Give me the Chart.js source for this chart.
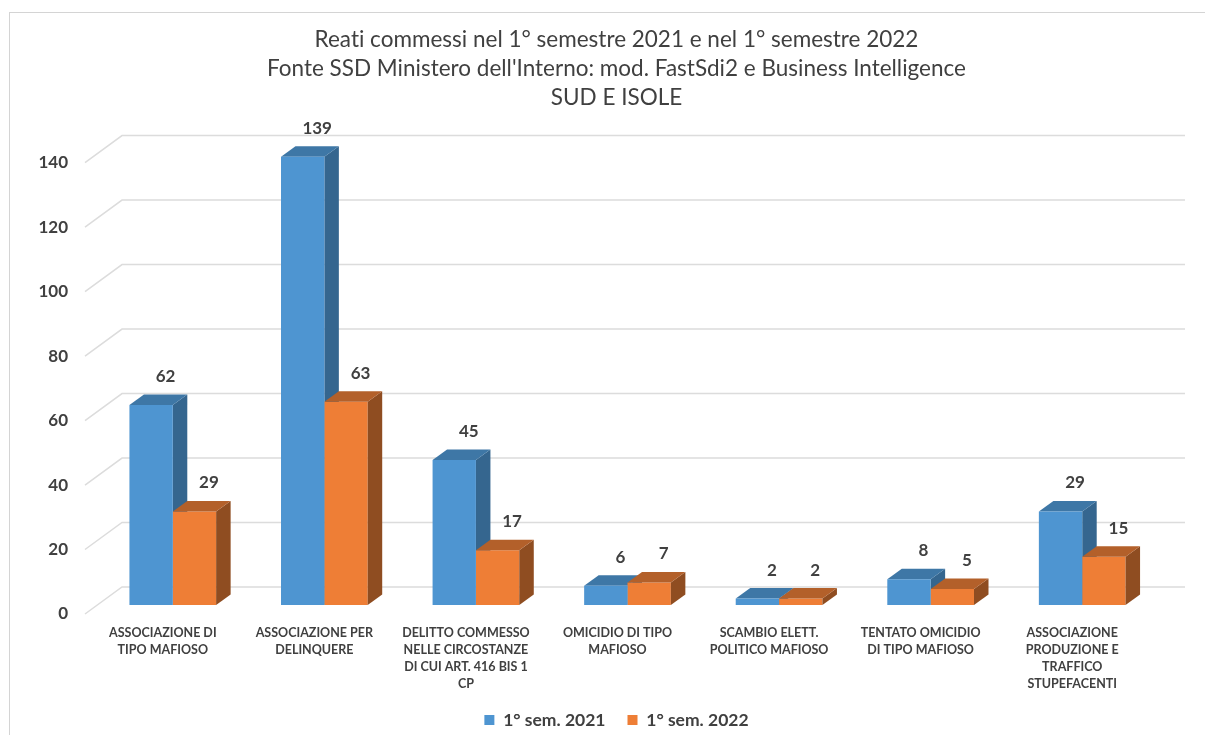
<!DOCTYPE html>
<html>
<head>
<meta charset="utf-8">
<script src="https://cdn.jsdelivr.net/npm/chart.js@4.4.1/dist/chart.umd.min.js"></script>
<style>
  html, body { margin: 0; padding: 0; background: #ffffff; overflow: hidden; }
  #frame { position: absolute; left: 9px; top: 12px; width: 1400px; height: 900px;
           border-left: 1px solid #d4d4d4; border-top: 1px solid #d4d4d4; }
  #wrap { position: absolute; left: 0; top: 0; width: 1205px; height: 735px; }
</style>
</head>
<body>
<div id="frame"></div>
<div id="wrap"><canvas id="c" width="1205" height="735"></canvas></div>
<script>
// ---- data ----
const categories = [
  ['ASSOCIAZIONE DI', 'TIPO MAFIOSO'],
  ['ASSOCIAZIONE PER', 'DELINQUERE'],
  ['DELITTO COMMESSO', 'NELLE CIRCOSTANZE', 'DI CUI ART. 416 BIS 1', 'CP'],
  ['OMICIDIO DI TIPO', 'MAFIOSO'],
  ['SCAMBIO ELETT.', 'POLITICO MAFIOSO'],
  ['TENTATO OMICIDIO', 'DI TIPO MAFIOSO'],
  ['ASSOCIAZIONE', 'PRODUZIONE E', 'TRAFFICO', 'STUPEFACENTI']
];
const seriesNames = ['1° sem. 2021', '1° sem. 2022'];
const sem2021 = [62, 139, 45, 6, 2, 8, 29];
const sem2022 = [29, 63, 17, 7, 2, 5, 15];
const yTickValues = [0, 20, 40, 60, 80, 100, 120, 140];
// \u200C (zero-width non-joiner) only prevents the "ti" ligature of the font
const titleLines = [
  'Reat\u200Ci commessi nel 1° semestre 2021 e nel 1° semestre 2022',
  "Fonte SSD Ministero dell'Interno: mod. FastSdi2 e Business Intelligence",
  'SUD E ISOLE'
];

// ---- styles ----
const FONT = 'Lato, "Open Sans", sans-serif';
const TEXT = '#404040';
const colors = {
  front: ['#4E95D1', '#EE7E36'],
  side:  ['#35668F', '#8F4D21'],
  top:   ['#3E77A6', '#B3602A']
};
const DEPTH_X = 14.5, DEPTH_Y = 10.5;

function drawBox(ctx, el, i) {
  const p = el.getProps(['x', 'y', 'base', 'width'], true);
  const l = p.x - p.width / 2, r = p.x + p.width / 2, t = p.y, b = p.base;
  ctx.fillStyle = colors.side[i];
  ctx.beginPath();
  ctx.moveTo(r, b); ctx.lineTo(r, t); ctx.lineTo(r + DEPTH_X, t - DEPTH_Y); ctx.lineTo(r + DEPTH_X, b - DEPTH_Y);
  ctx.closePath(); ctx.fill();
  ctx.fillStyle = colors.top[i];
  ctx.beginPath();
  ctx.moveTo(l, t); ctx.lineTo(r, t); ctx.lineTo(r + DEPTH_X, t - DEPTH_Y); ctx.lineTo(l + DEPTH_X, t - DEPTH_Y);
  ctx.closePath(); ctx.fill();
}

const threeD = {
  id: 'threeD',
  beforeDatasetsDraw(chart) {
    const ctx = chart.ctx, ys = chart.scales.y, area = chart.chartArea;
    ctx.save();
    // back wall + side wall grid lines
    ctx.strokeStyle = '#dcdcdc';
    ctx.lineWidth = 1.5;
    ys.ticks.forEach(tk => {
      const py = ys.getPixelForValue(tk.value);
      ctx.beginPath();
      ctx.moveTo(area.left - 12, py + 9);
      ctx.lineTo(area.left + 25, py - 18);
      ctx.lineTo(area.right + 27, py - 18);
      ctx.stroke();
    });
    // depth faces of the first series (behind the second)
    chart.getDatasetMeta(0).data.forEach(el => drawBox(ctx, el, 0));
    ctx.restore();
  },
  afterDatasetsDraw(chart) {
    const ctx = chart.ctx;
    ctx.save();
    chart.getDatasetMeta(1).data.forEach(el => drawBox(ctx, el, 1));
    // value labels
    ctx.fillStyle = TEXT;
    ctx.font = 'bold 17px ' + FONT;
    ctx.textAlign = 'center';
    ctx.textBaseline = 'middle';
    [0, 1].forEach(ds => {
      const meta = chart.getDatasetMeta(ds);
      const vals = chart.data.datasets[ds].data;
      meta.data.forEach((el, j) => {
        const p = el.getProps(['x', 'y'], true);
        ctx.fillText(String(vals[j]), p.x + DEPTH_X, p.y - DEPTH_Y - 18);
      });
    });
    ctx.restore();
  }
};

new Chart(document.getElementById('c'), {
  type: 'bar',
  data: {
    labels: categories,
    datasets: [
      { label: seriesNames[0], data: sem2021, backgroundColor: colors.front[0], borderWidth: 0 },
      { label: seriesNames[1], data: sem2022, backgroundColor: colors.front[1], borderWidth: 0 }
    ]
  },
  options: {
    responsive: false,
    animation: false,
    devicePixelRatio: 1,
    layout: { padding: { left: 28, right: 0, top: 0, bottom: -3.75 } },
    datasets: { bar: { categoryPercentage: 0.572, barPercentage: 1.0 } },
    plugins: {
      title: {
        display: true,
        text: titleLines,
        color: TEXT,
        font: { family: FONT, size: 22.5, weight: 'normal', lineHeight: 1.29 },
        padding: { top: 25.5, bottom: 41 }
      },
      legend: {
        position: 'bottom',
        labels: {
          color: TEXT,
          font: { family: FONT, size: 17.5, weight: 'bold' },
          boxWidth: 10, boxHeight: 10, padding: 22
        }
      },
      tooltip: { enabled: false }
    },
    scales: {
      x: {
        grid: { display: false, drawTicks: false },
        border: { display: false },
        ticks: {
          color: TEXT,
          font: { family: FONT, size: 12.5, weight: 'bold', lineHeight: 1.36 },
          padding: 19.5,
          labelOffset: -10,
          maxRotation: 0, autoSkip: false
        },
        afterFit(scale) { scale.height = 84.25; }
      },
      y: {
        min: 0, max: 140,
        grid: { display: false, drawTicks: false },
        border: { display: false },
        afterBuildTicks(scale) { scale.ticks = yTickValues.map(v => ({ value: v })); },
        ticks: {
          color: TEXT,
          font: { family: FONT, size: 17, weight: 'bold' },
          padding: 29,
          labelOffset: 9
        },
        afterFit(scale) { scale.width = 69; }
      },
      yRight: {
        type: 'linear',
        position: 'right',
        display: true,
        grid: { display: false, drawTicks: false },
        border: { display: false },
        ticks: { display: false },
        afterFit(scale) { scale.width = 47; }
      }
    }
  },
  plugins: [threeD]
});
</script>
</body>
</html>
